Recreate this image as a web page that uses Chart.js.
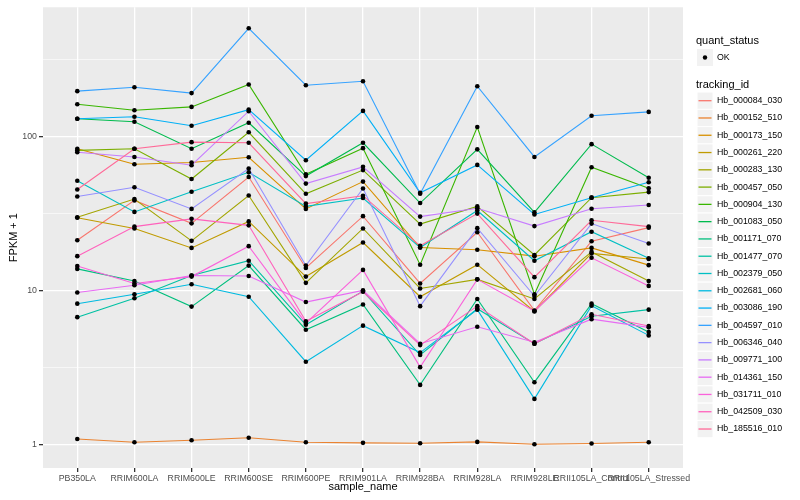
<!DOCTYPE html>
<html>
<head>
<meta charset="utf-8">
<script src="https://cdn.jsdelivr.net/npm/chart.js@4.4.1/dist/chart.umd.min.js"></script>
<style>
  html, body { margin: 0; padding: 0; background: #ffffff; }
  #wrap { width: 800px; height: 500px; }
</style>
</head>
<body>
<div id="wrap"><canvas id="fpkmChart" width="800" height="500"></canvas></div>
<script>
// sample_name categories (x axis)
const samples = ['PB350LA', 'RRIM600LA', 'RRIM600LE', 'RRIM600SE', 'RRIM600PE', 'RRIM901LA',
                 'RRIM928BA', 'RRIM928LA', 'RRIM928LE', 'RRII105LA_Control', 'RRII105LA_Stressed'];

// FPKM + 1, one array per tracking_id
const hb_000084_030 = [21.2, 38.5, 27.3, 54.6, 14.0, 30.4, 11.1, 23.9, 7.4, 20.9, 25.6];
const hb_000152_510 = [1.08, 1.03, 1.06, 1.10, 1.03, 1.02, 1.015, 1.035, 1.00, 1.01, 1.03];
const hb_000173_150 = [83.5, 66.2, 67.9, 73.4, 33.9, 51.0, 19.0, 18.4, 16.7, 18.9, 14.6];
const hb_000261_220 = [29.7, 25.3, 18.9, 28.1, 12.3, 20.5, 9.1, 14.7, 7.3, 17.4, 16.0];
const hb_000283_130 = [29.9, 39.3, 21.0, 41.4, 11.2, 25.3, 10.3, 11.8, 8.8, 17.8, 11.5];
const hb_000457_050 = [81.4, 83.5, 53.0, 106.7, 42.5, 60.6, 27.0, 35.2, 17.0, 40.1, 43.6];
const hb_000904_130 = [162.3, 148.6, 156.1, 218.2, 56.9, 84.2, 14.7, 115.6, 9.45, 63.3, 46.2];
const hb_001083_050 = [130.7, 125.0, 83.5, 123.1, 55.4, 91.2, 37.0, 82.7, 32.2, 89.4, 54.1];
const hb_001171_070 = [13.8, 11.5, 7.85, 14.5, 5.55, 8.1, 2.43, 8.8, 2.53, 8.2, 5.37];
const hb_001477_070 = [6.7, 8.9, 12.5, 15.6, 5.98, 9.9, 3.8, 7.6, 4.5, 6.8, 7.5];
const hb_002379_050 = [51.7, 32.4, 43.8, 58.6, 35.2, 39.9, 19.0, 33.1, 15.6, 24.1, 16.2];
const hb_002681_060 = [8.2, 9.45, 10.96, 9.1, 3.44, 5.9, 3.94, 7.5, 1.97, 7.96, 5.1];
const hb_003086_190 = [130.7, 134.6, 117.8, 149.9, 70.2, 147.1, 43.1, 65.5, 31.2, 40.1, 50.5];
const hb_004597_010 = [197.7, 209.7, 191.9, 506.7, 216.0, 229.0, 42.5, 212.8, 73.8, 136.6, 144.9];
const hb_006346_040 = [40.8, 46.9, 33.9, 62.1, 14.5, 46.0, 7.9, 25.4, 9.2, 27.2, 20.2];
const hb_009771_100 = [79.1, 73.8, 65.2, 146.4, 49.5, 63.6, 30.2, 34.2, 26.2, 34.0, 35.9];
const hb_014361_150 = [9.7, 10.8, 12.5, 12.4, 8.4, 10.0, 4.5, 5.8, 4.6, 6.5, 5.75];
const hb_031711_010 = [14.4, 11.1, 12.3, 19.4, 6.13, 13.6, 3.17, 11.8, 7.35, 16.3, 10.7];
const hb_042509_030 = [16.7, 26.0, 29.2, 26.5, 6.3, 9.8, 4.41, 7.9, 4.5, 7.0, 5.87];
const hb_185516_010 = [45.3, 83.5, 92.1, 91.2, 36.7, 41.3, 19.5, 31.6, 12.2, 28.6, 26.0];

const trackingIds = ['Hb_000084_030', 'Hb_000152_510', 'Hb_000173_150', 'Hb_000261_220', 'Hb_000283_130',
                     'Hb_000457_050', 'Hb_000904_130', 'Hb_001083_050', 'Hb_001171_070', 'Hb_001477_070',
                     'Hb_002379_050', 'Hb_002681_060', 'Hb_003086_190', 'Hb_004597_010', 'Hb_006346_040',
                     'Hb_009771_100', 'Hb_014361_150', 'Hb_031711_010', 'Hb_042509_030', 'Hb_185516_010'];
const seriesValues = [hb_000084_030, hb_000152_510, hb_000173_150, hb_000261_220, hb_000283_130,
                      hb_000457_050, hb_000904_130, hb_001083_050, hb_001171_070, hb_001477_070,
                      hb_002379_050, hb_002681_060, hb_003086_190, hb_004597_010, hb_006346_040,
                      hb_009771_100, hb_014361_150, hb_031711_010, hb_042509_030, hb_185516_010];
const colours = ['#F8766D', '#EA8331', '#D89000', '#C09B00', '#A3A500', '#7CAE00', '#39B600', '#00BB4E',
                 '#00BF7D', '#00C1A3', '#00BFC4', '#00BAE0', '#00B0F6', '#35A2FF', '#9590FF', '#C77CFF',
                 '#E76BF3', '#FA62DB', '#FF62BC', '#FF6A98'];

const yMajor = [1, 10, 100];
const yTicks = [1, Math.sqrt(10), 10, 10 * Math.sqrt(10), 100, 100 * Math.sqrt(10)];

const FONT = "'Liberation Sans', Arial, sans-serif";
Chart.defaults.font.family = FONT;

const isMajor = v => yMajor.some(m => Math.abs(m - v) < 1e-6);

// one line per tracking_id, points drawn on top as their own layer
const datasets = seriesValues.map((vals, i) => ({
    label: trackingIds[i],
    data: vals.map((v, j) => ({ x: j, y: v })),
    borderColor: colours[i],
    borderWidth: 1.1,
    pointRadius: 0,
    tension: 0,
    fill: false,
    order: 100 - i
}));
const allPoints = [];
seriesValues.forEach(vals => vals.forEach((v, j) => allPoints.push({ x: j, y: v })));
datasets.push({
    label: 'OK',
    data: allPoints,
    showLine: false,
    pointRadius: 2.3,
    pointBackgroundColor: '#000000',
    pointBorderWidth: 0,
    order: 0
});

const panelBg = {
    id: 'panelBg',
    beforeDraw(chart) {
        const { ctx, chartArea: a } = chart;
        ctx.save();
        ctx.fillStyle = '#EBEBEB';
        ctx.fillRect(a.left, a.top, a.right - a.left, a.bottom - a.top);
        ctx.restore();
    }
};

const ggLegend = {
    id: 'ggLegend',
    afterDraw(chart) {
        const c = chart.ctx;
        c.save();
        c.textAlign = 'left';
        c.textBaseline = 'middle';
        c.fillStyle = '#000000';
        c.font = '11px ' + FONT;
        c.fillText('quant_status', 696, 41);
        c.fillStyle = '#F2F2F2';
        c.fillRect(697, 49, 16, 17);
        c.fillStyle = '#000000';
        c.beginPath();
        c.arc(705, 57.5, 2.2, 0, Math.PI * 2);
        c.fill();
        c.font = '8.8px ' + FONT;
        c.fillText('OK', 717, 57.5);

        c.font = '11px ' + FONT;
        c.fillText('tracking_id', 696, 84.5);
        const step = 17.28;
        trackingIds.forEach((id, i) => {
            const cy = 100.7 + i * step;
            c.fillStyle = '#F2F2F2';
            c.fillRect(697, cy - step / 2, 16, step);
            c.strokeStyle = '#FFFFFF';
            c.lineWidth = 1;
            c.strokeRect(697, cy - step / 2, 16, step);
            c.strokeStyle = colours[i];
            c.lineWidth = 1.3;
            c.beginPath();
            c.moveTo(698.5, cy);
            c.lineTo(711.5, cy);
            c.stroke();
            c.fillStyle = '#000000';
            c.font = '8.8px ' + FONT;
            c.fillText(id, 717, cy);
        });
        c.restore();
    }
};

new Chart(document.getElementById('fpkmChart'), {
    type: 'line',
    data: { datasets },
    options: {
        responsive: false,
        animation: false,
        devicePixelRatio: 1,
        layout: { padding: { top: 5, right: 117, left: 0, bottom: 0 } },
        plugins: {
            legend: { display: false },
            tooltip: { enabled: false }
        },
        scales: {
            x: {
                type: 'linear',
                min: -0.6,
                max: 10.6,
                afterBuildTicks: s => { s.ticks = samples.map((_, i) => ({ value: i })); },
                afterFit: s => { s.height = 32; },
                ticks: {
                    callback: v => samples[v],
                    autoSkip: false,
                    maxRotation: 0,
                    minRotation: 0,
                    color: '#4D4D4D',
                    font: { size: 8.8 },
                    padding: 1
                },
                grid: { color: '#FFFFFF', lineWidth: 1.3, drawTicks: true, tickLength: 4, tickColor: '#333333' },
                border: { display: false },
                title: { display: true, text: 'sample_name', color: '#000000', font: { size: 11 },
                         padding: { top: 0, bottom: 6 } }
            },
            y: {
                type: 'logarithmic',
                min: 0.741,
                max: 694,
                afterBuildTicks: s => { s.ticks = yTicks.map(v => ({ value: v, major: isMajor(v) })); },
                afterFit: s => { s.width = 43; },
                ticks: {
                    callback: v => isMajor(v) ? String(Math.round(v)) : '',
                    color: '#4D4D4D',
                    font: { size: 8.8 },
                    padding: 2
                },
                grid: {
                    color: '#FFFFFF',
                    lineWidth: c => (c.tick && isMajor(c.tick.value)) ? 1.3 : 0.6,
                    drawTicks: true,
                    tickLength: 4,
                    tickColor: c => (c.tick && isMajor(c.tick.value)) ? '#333333' : 'rgba(0,0,0,0)'
                },
                border: { display: false },
                title: { display: true, text: 'FPKM + 1', color: '#000000', font: { size: 11 },
                         padding: { top: 7.4, bottom: 0 } }
            }
        }
    },
    plugins: [panelBg, ggLegend]
});
</script>
</body>
</html>
